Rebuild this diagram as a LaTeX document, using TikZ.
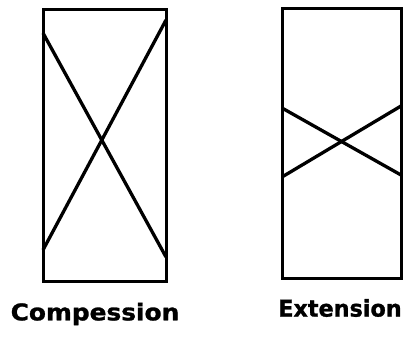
\documentclass[tikz,border=0pt]{standalone}
\usepackage{fontspec}
\newfontfamily\labelfont{DejaVu Sans}[BoldFeatures={FakeBold=1.2}]
\begin{document}
\begin{tikzpicture}[
x=1pt, y=-1pt,
box/.style={draw, line width=3pt, line join=miter},
fault/.style={draw, line width=3.3pt},
caption/.style={font=\labelfont\bfseries\fontsize{23}{27}\selectfont, inner sep=0pt, anchor=center}
]
\useasboundingbox (0,0) rectangle (420,340);

% compression block
\draw[box] (43,9) rectangle (166,281);
\coordinate (ctl) at (43,33);
\coordinate (cbr) at (166,257);
\coordinate (ctr) at (166,20);
\coordinate (cbl) at (43,250);
\draw[fault] (ctl) -- (cbr);
\draw[fault] (ctr) -- (cbl);

% extension block
\draw[box] (282,8) rectangle (401,278);
\coordinate (etl) at (282,108);
\coordinate (ebr) at (401,175);
\coordinate (etr) at (401,106);
\coordinate (ebl) at (282,177);
\draw[fault] (etl) -- (ebr);
\draw[fault] (etr) -- (ebl);

\node[caption, xscale=1.08] (comp) at (95,314) {Compession};
\node[caption, xscale=0.97] (ext) at (340,308) {Extension};

\end{tikzpicture}
\end{document}
